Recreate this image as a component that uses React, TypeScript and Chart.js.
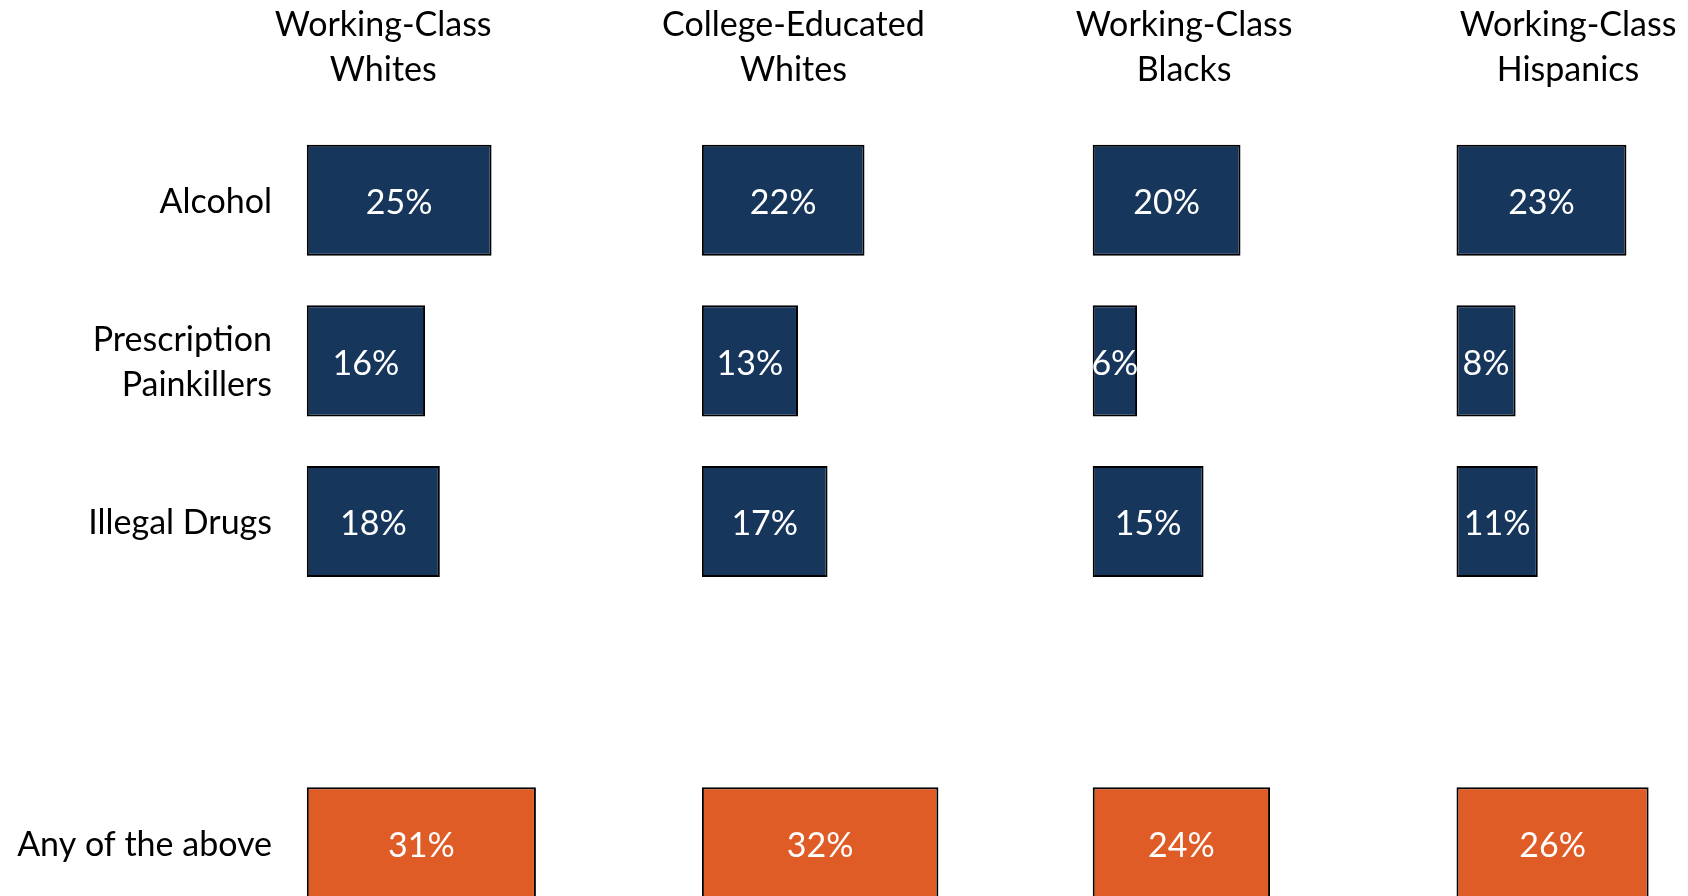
import React, { useEffect, useRef } from 'react';
import { Chart, registerables } from 'chart.js';

Chart.register(...registerables);

// ---- data ----
const ROW_LABELS: (string | string[])[] = [
  'Alcohol',
  ['Prescription', 'Painkillers'],
  'Illegal Drugs',
  '',
  'Any of the above',
];
const GROUP_LABELS: string[][] = [
  ['Working-Class', 'Whites'],
  ['College-Educated', 'Whites'],
  ['Working-Class', 'Blacks'],
  ['Working-Class', 'Hispanics'],
];
const WC_WHITES = [25, 16, 18, null, 31];
const CE_WHITES = [22, 13, 17, null, 32];
const WC_BLACKS = [20, 6, 15, null, 24];
const WC_HISPANICS = [23, 8, 11, null, 26];
const GROUP_VALUES = [WC_WHITES, CE_WHITES, WC_BLACKS, WC_HISPANICS];

// ---- styling / layout ----
const NAVY = '#16365C';
const ORANGE = '#E05C27';
const ROW_COLORS = [NAVY, NAVY, NAVY, NAVY, ORANGE];
const FONT_FAMILY = 'Lato, "Open Sans", sans-serif';
const FONT_SIZE = 34;
const LINE_HEIGHT = 45;

// each column gets its own x axis, stacked side by side along the top
const AXIS_LAYOUT = [
  { min: -2.95, max: 47.79, weight: 375, headerAt: 10.34 },
  { min: -5.67, max: 47.1, weight: 390, headerAt: 12.38 },
  { min: -5.78, max: 44.29, weight: 370, headerAt: 12.38 },
  { min: -4.94, max: 31.33, weight: 268, headerAt: 15.09 },
];

const valueLabels = {
  id: 'valueLabels',
  afterDatasetsDraw(chart: any) {
    const { ctx } = chart;
    ctx.save();
    ctx.font = `${FONT_SIZE}px ${FONT_FAMILY}`;
    ctx.fillStyle = '#FFFFFF';
    ctx.textAlign = 'center';
    ctx.textBaseline = 'middle';
    chart.data.datasets.forEach((ds: any, di: number) => {
      const meta = chart.getDatasetMeta(di);
      meta.data.forEach((bar: any, i: number) => {
        const v = ds.data[i];
        if (v == null) return;
        const { x, y, base } = bar.getProps(['x', 'y', 'base'], true);
        ctx.fillText(`${v}%`, (x + base) / 2, y + 3);
      });
    });
    ctx.restore();
  },
};

export default function App() {
  const canvasRef = useRef<HTMLCanvasElement | null>(null);

  useEffect(() => {
    if (!canvasRef.current) return;
    const font = { family: FONT_FAMILY, size: FONT_SIZE, lineHeight: LINE_HEIGHT / FONT_SIZE };

    const scales: any = {
      y: {
        type: 'category',
        position: 'left',
        grid: { display: false, drawTicks: false },
        border: { display: false },
        ticks: { color: '#000000', font, padding: 13, autoSkip: false, labelOffset: 2 },
        afterFit(scale: any) {
          scale.width = 285;
          scale.paddingTop = 0;
          scale.paddingBottom = 0;
        },
      },
    };
    // top boxes are laid out in reverse order, so insert the last column first
    for (let i = AXIS_LAYOUT.length - 1; i >= 0; i--) {
      const ax = AXIS_LAYOUT[i];
      scales['x' + i] = {
        type: 'linear',
        axis: 'x',
        position: 'top',
        stack: 'columns',
        stackWeight: ax.weight,
        min: ax.min,
        max: ax.max,
        offset: false,
        grid: { display: false, drawTicks: false },
        border: { display: false },
        ticks: {
          color: '#000000',
          font,
          padding: 27,
          autoSkip: false,
          maxRotation: 0,
          minRotation: 0,
          callback: () => GROUP_LABELS[i],
        },
        afterBuildTicks(scale: any) {
          scale.ticks = [{ value: ax.headerAt }];
        },
        afterFit(scale: any) {
          scale.height = 120;
          scale.paddingLeft = 0;
          scale.paddingRight = 0;
        },
      };
    }

    const chart = new Chart(canvasRef.current, {
      type: 'bar',
      data: {
        labels: ROW_LABELS as any,
        datasets: GROUP_VALUES.map((vals, i) => ({
          label: GROUP_LABELS[i].join(' '),
          data: vals as any,
          xAxisID: 'x' + i,
          yAxisID: 'y',
          backgroundColor: ROW_COLORS,
          borderColor: '#000000',
          borderWidth: 2,
          borderSkipped: false,
          grouped: false,
          categoryPercentage: 1,
          barPercentage: 0.692,
        })),
      },
      options: {
        indexAxis: 'y',
        animation: false,
        responsive: false,
        maintainAspectRatio: false,
        layout: { padding: 0 },
        plugins: {
          legend: { display: false },
          tooltip: { enabled: false },
          title: { display: false },
        },
        scales,
      },
      plugins: [valueLabels],
    });
    return () => chart.destroy();
  }, []);

  return (
    <div
      style={{
        position: 'fixed',
        left: 0,
        top: 0,
        width: 1688,
        height: 896,
        overflow: 'hidden',
        background: '#FFFFFF',
      }}
    >
      <canvas ref={canvasRef} width={1688} height={923} style={{ display: 'block' }} />
    </div>
  );
}
